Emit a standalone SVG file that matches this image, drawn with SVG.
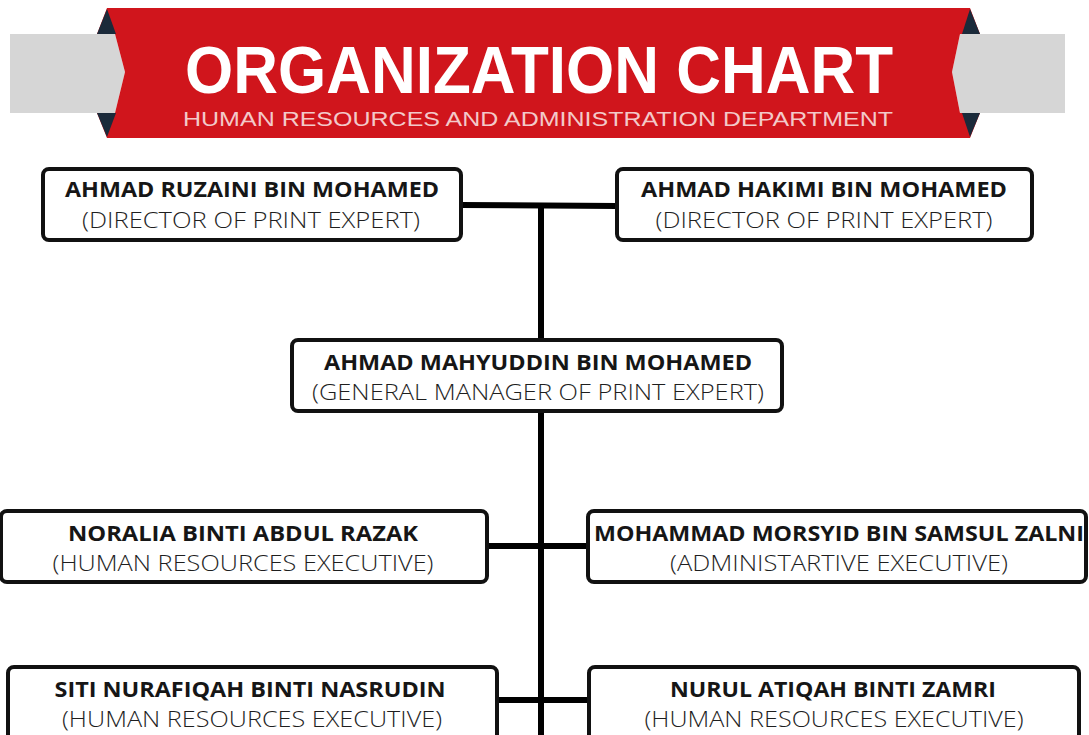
<svg xmlns="http://www.w3.org/2000/svg" width="1089" height="735" viewBox="0 0 1089 735">
<style>
.box{fill:#fff;stroke:#111;stroke-width:4}
.name{font-family:"Open Sans","Liberation Sans",sans-serif;font-weight:700;font-size:21px;fill:#161616;text-anchor:middle}
.role{font-family:"Open Sans","Liberation Sans",sans-serif;font-weight:300;font-size:22px;fill:#1e1e1e;text-anchor:middle}
.conn{stroke:#000;stroke-width:6;fill:none}
.fold{fill:#1b2a3a}
</style>
<rect width="1089" height="735" fill="#fff"/>
<g id="banner">
<polygon points="10,34 115,34 125,72 115,113 10,113" fill="#d6d6d6"/>
<polygon points="1065,34 960,34 952,72 960,113 1065,113" fill="#d6d6d6"/>
<polygon points="107,8 970,8 980,34 960,34 952,72 960,113 980,113 970,138 107,138 97,113 115,113 125,72 115,34 97,34" fill="#d0151c"/>
<polygon class="fold" points="97,34 107,9 116,34"/>
<polygon class="fold" points="97,113 107,137 116,113"/>
<polygon class="fold" points="962,34 970,9 980,34"/>
<polygon class="fold" points="962,113 970,137 980,113"/>
<text x="539" y="93" font-family="'Liberation Sans',Roboto,sans-serif" font-weight="700" font-size="66" fill="#fff" text-anchor="middle" textLength="708" lengthAdjust="spacingAndGlyphs">ORGANIZATION CHART</text>
<text x="538" y="126" font-family="'Liberation Sans',Lato,sans-serif" font-weight="400" font-size="20" fill="#f3c9c9" text-anchor="middle" textLength="710" lengthAdjust="spacingAndGlyphs">HUMAN RESOURCES AND ADMINISTRATION DEPARTMENT</text>
</g>
<g id="connectors">
<line class="conn" x1="461" y1="205" x2="617" y2="206"/>
<line class="conn" x1="541" y1="205" x2="541" y2="735"/>
<line class="conn" x1="487" y1="546" x2="588" y2="546"/>
<line class="conn" x1="497" y1="700" x2="589" y2="700"/>
</g>
<g id="n1">
<rect class="box" x="43" y="169" width="418" height="71" rx="6"/>
<text class="name" x="252" y="197" textLength="374" lengthAdjust="spacingAndGlyphs">AHMAD RUZAINI BIN MOHAMED</text>
<text class="role" x="251" y="228" textLength="338" lengthAdjust="spacingAndGlyphs">(DIRECTOR OF PRINT EXPERT)</text>
</g>
<g id="n2">
<rect class="box" x="617" y="169" width="415" height="71" rx="6"/>
<text class="name" x="824" y="197" textLength="366" lengthAdjust="spacingAndGlyphs">AHMAD HAKIMI BIN MOHAMED</text>
<text class="role" x="824" y="228" textLength="337" lengthAdjust="spacingAndGlyphs">(DIRECTOR OF PRINT EXPERT)</text>
</g>
<g id="n3">
<rect class="box" x="292" y="340" width="490" height="71" rx="6"/>
<text class="name" x="538" y="370" textLength="428" lengthAdjust="spacingAndGlyphs">AHMAD MAHYUDDIN BIN MOHAMED</text>
<text class="role" x="538" y="400" textLength="452" lengthAdjust="spacingAndGlyphs">(GENERAL MANAGER OF PRINT EXPERT)</text>
</g>
<g id="n4">
<rect class="box" x="1" y="511" width="486" height="71" rx="6"/>
<text class="name" x="243" y="541" textLength="350" lengthAdjust="spacingAndGlyphs">NORALIA BINTI ABDUL RAZAK</text>
<text class="role" x="243" y="571" textLength="381" lengthAdjust="spacingAndGlyphs">(HUMAN RESOURCES EXECUTIVE)</text>
</g>
<g id="n5">
<rect class="box" x="588" y="511" width="498" height="71" rx="6"/>
<text class="name" x="839" y="541" textLength="490" lengthAdjust="spacingAndGlyphs">MOHAMMAD MORSYID BIN SAMSUL ZALNI</text>
<text class="role" x="839" y="571" textLength="338" lengthAdjust="spacingAndGlyphs">(ADMINISTARTIVE EXECUTIVE)</text>
</g>
<g id="n6">
<rect class="box" x="8" y="667" width="489" height="90" rx="6"/>
<text class="name" x="250" y="697" textLength="391" lengthAdjust="spacingAndGlyphs">SITI NURAFIQAH BINTI NASRUDIN</text>
<text class="role" x="252" y="727" textLength="380" lengthAdjust="spacingAndGlyphs">(HUMAN RESOURCES EXECUTIVE)</text>
</g>
<g id="n7">
<rect class="box" x="589" y="667" width="490" height="90" rx="6"/>
<text class="name" x="833" y="697" textLength="326" lengthAdjust="spacingAndGlyphs">NURUL ATIQAH BINTI ZAMRI</text>
<text class="role" x="834" y="727" textLength="379" lengthAdjust="spacingAndGlyphs">(HUMAN RESOURCES EXECUTIVE)</text>
</g>
</svg>
